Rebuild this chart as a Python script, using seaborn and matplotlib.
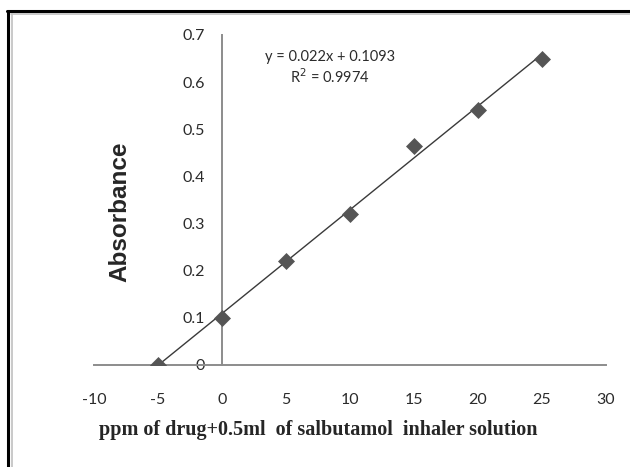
import matplotlib
matplotlib.use("Agg")
import matplotlib.pyplot as plt
from matplotlib.lines import Line2D
import seaborn as sns
import pandas as pd
import numpy as np

# Calibration data
concentration = [-5, 0, 5, 10, 15, 20, 25]
absorbance = [0.0, 0.10, 0.22, 0.32, 0.465, 0.54, 0.65]

# Linear fit reported on the chart
slope = 0.022
intercept = 0.1093
r_squared = 0.9974

x_ticks = [-10, -5, 0, 5, 10, 15, 20, 25, 30]
y_ticks = [0, 0.1, 0.2, 0.3, 0.4, 0.5, 0.6, 0.7]
y_tick_labels = ["0", "0.1", "0.2", "0.3", "0.4", "0.5", "0.6", "0.7"]

df = pd.DataFrame({"ppm": concentration, "abs": absorbance})

sns.set_style("white")
plt.rcParams["font.family"] = ["Lato", "DejaVu Sans"]

W, H = 630, 467
fig = plt.figure(figsize=(W / 100, H / 100), dpi=100)
ax = fig.add_axes([94 / W, 1 - 365 / H, 512 / W, 330 / H])

# trend line over the data range
fit_x = np.array([min(concentration), max(concentration)])
fit_y = slope * fit_x + intercept
ax.plot(fit_x, fit_y, color="#3a3a3a", lw=1.0, zorder=2)

sns.scatterplot(data=df, x="ppm", y="abs", marker="D", s=75, color="#555555",
                edgecolor="#555555", linewidth=0, ax=ax, zorder=3)

ax.set_xlim(-10, 30)
ax.set_ylim(0, 0.7)
ax.set_xticks(x_ticks)
ax.set_xticklabels([str(t) for t in x_ticks])
ax.set_yticks(y_ticks)
ax.set_yticklabels(y_tick_labels)

axis_gray = "#8c8c8c"
for side in ("top", "right"):
    ax.spines[side].set_visible(False)
ax.spines["left"].set_position(("data", 0))
for side in ("left", "bottom"):
    ax.spines[side].set_color(axis_gray)
    ax.spines[side].set_linewidth(1.4)

ax.tick_params(axis="both", direction="out", width=1.2, color=axis_gray,
               labelsize=11.5, labelcolor="#2b2b2b")
ax.tick_params(axis="x", length=5.5, pad=15)
ax.tick_params(axis="y", length=4, pad=8)
ax.set_xlabel("")
ax.set_ylabel("")

# axis titles
fig.text(120 / W, 1 - 212 / H, "Absorbance", rotation=90, ha="center", va="center",
         fontsize=17.5, fontweight="bold", family="Liberation Sans")
fig.text(318 / W, 1 - 430 / H, "ppm of drug+0.5ml  of salbutamol  inhaler solution",
         ha="center", va="center", fontsize=14.5, fontweight="bold",
         family="Liberation Serif")

# regression annotation
fig.text(330 / W, 1 - 57 / H, f"y = {slope}x + {intercept}", ha="center", va="center",
         fontsize=10.5, color="#2b2b2b")
fig.text(330 / W, 1 - 77 / H, f"R$^2$ = {r_squared}", ha="center", va="center",
         fontsize=10.5, color="#2b2b2b")

# frame around the chart area
fig.add_artist(Line2D([8 / W, 8 / W], [0, 1 - 11 / H], color="black", lw=2.2))
fig.add_artist(Line2D([7 / W, 1], [1 - 11 / H, 1 - 11 / H], color="black", lw=2.2))
fig.add_artist(Line2D([11.5 / W, 11.5 / W], [0, 1 - 13.5 / H], color="#c0c0c0", lw=1.2))
fig.add_artist(Line2D([11 / W, 1], [1 - 13.5 / H, 1 - 13.5 / H], color="#c0c0c0", lw=1.2))

fig.savefig("out.png", dpi=100)
